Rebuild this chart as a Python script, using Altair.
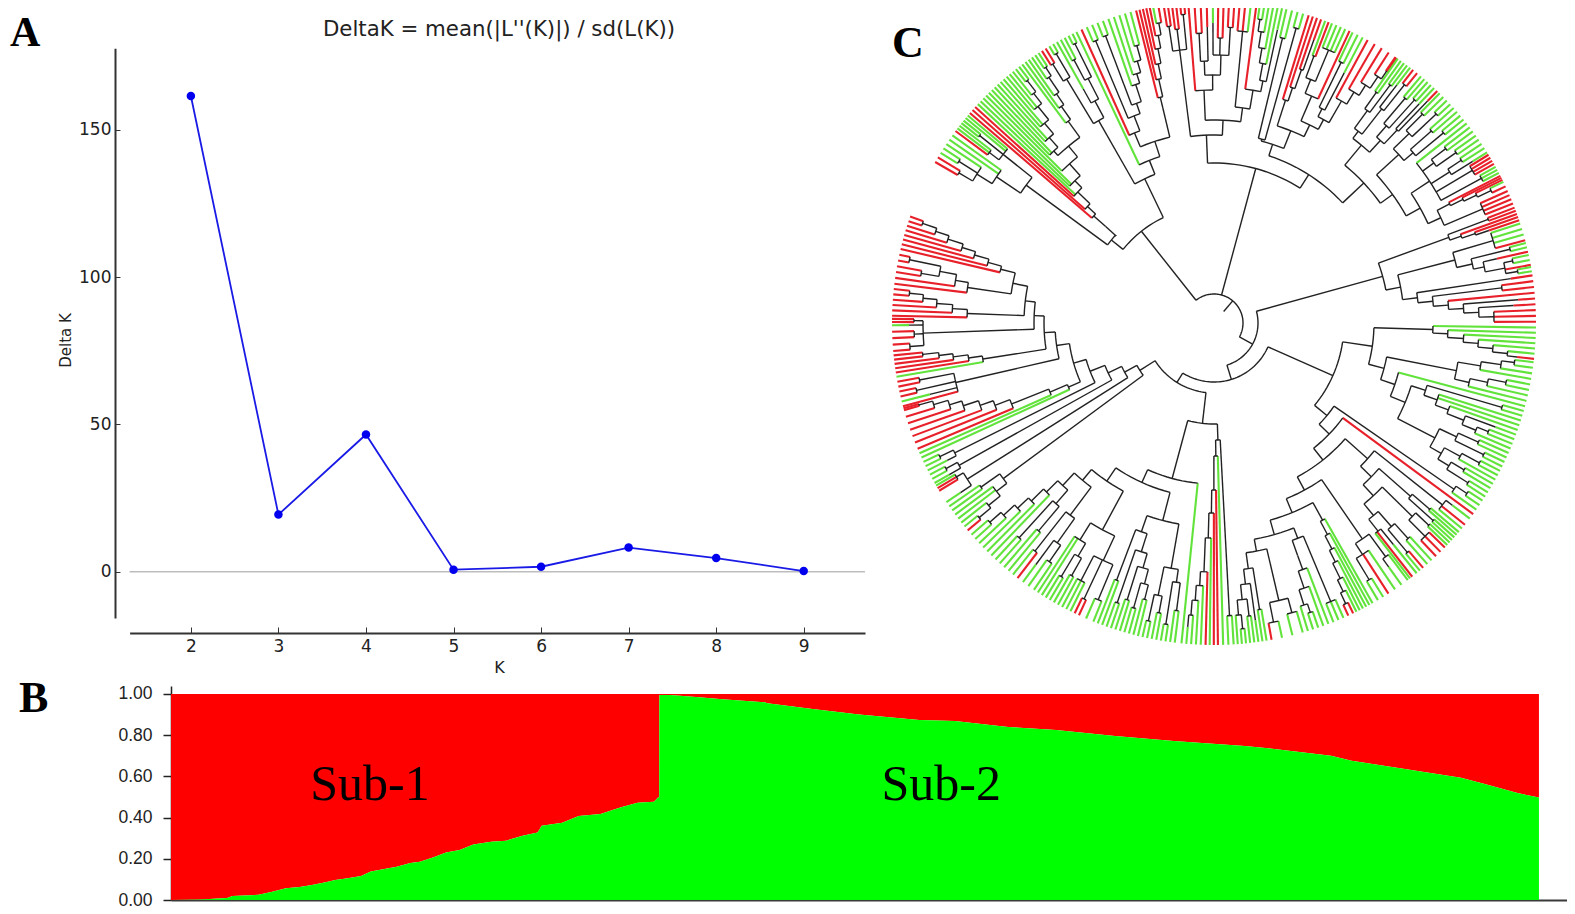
import re
import numpy as np
import pandas as pd
import altair as alt

alt.data_transformers.disable_max_rows()

W, H = 1559, 901

# ---------- panel A ----------
k_values = [2, 3, 4, 5, 6, 7, 8, 9]
delta_k = [161.5, 19.4, 46.6, 0.7, 1.7, 8.2, 4.65, 0.25]
a_x_dom = [1.30, 9.70]
a_y_dom = [-15.7, 177.7]
a_y_ticks = [0, 50, 100, 150]

# ---------- panel B ----------
sub1_rank = [0, 2.2, 4.1, 4.5, 6.4, 7.4, 8.4, 9.4, 10.3, 11.3, 12.0, 12.8, 13.9, 14.6, 15.6, 16.5, 17.5,
             18.2, 19.2, 20.1, 21.1, 22.1, 23.4, 24.5, 25.7, 26.8, 27.1, 28.6, 29.8, 31.4, 32.9, 34.1, 35.3, 35.6, 35.69]
sub1_green = [0, .003, .01, .02, .025, .04, .057, .063, .073, .086, .097, .104, .116, .138, .15, .162, .18,
              .186, .207, .23, .243, .27, .283, .288, .312, .328, .36, .375, .408, .417, .45, .472, .477, .498, .498]
sub2_rank = [35.7, 36.5, 38.6, 40.3, 43.4, 43.6, 46.9, 50.3, 54.7, 57.3, 61.2, 64.7, 69.0, 73.3, 78.5, 80.2,
             84.8, 86.3, 90.2, 94.3, 95.9, 98.5, 100]
sub2_green = [.995, .995, .984, .974, .96, .955, .927, .90, .874, .869, .84, .825, .796, .772, .748, .737,
              .70, .676, .636, .594, .566, .518, .498]
b_y_ticks = [0, .2, .4, .6, .8, 1]
b_labels = ["Sub-1", "Sub-2"]
b_label_x = [14.55, 56.3]
b_label_y = [.56, .56]

# ---------- panel C: the tree, clockwise. "(radius children...)", r/g = leaves, @deg = tip angle of next leaf ----------
c11 = "(233 (262 (280 (296 @150 r2) (302 g2) g) g2) (270 (282 @143.4 r g2) (300 g2) g2))"
c12 = "(131 (145 (161 @139.3 r (172 r (189 r g (199 g2 (215 g (229 (235 g2 (248 g2 (262 g2 (279 g2 (292 g (306 g2)))))) (249 g (265 g (278 g (296 g (306 g2)))))))))))))"
c21 = "(233 (285 (305 @122.3 r2) (312 g2)) (252 (268 g) (275 (298 g2) (312 g2))))"
c22 = "(175 @115.3 g (191 (206 @114.3 r (222 (306 g2) (233 (307 g2) (251 g (261 g (273 g (288 g2))))))) (221 (232 @104 r (250 r (265 r (280 r (293 r (305 @100.9 g r)))))))))"
T11 = "(275 (300 @99 r2) (296 r2) (310 r2))"
T12a = "(233 @94.6 r (248 (262 (290 r2) (296 r)) (268 (300 @90.2 g) (285 r2) (296 r2))))"
T13 = "(217 (293 @85.4 r2 g) (236 @82.4 r (247 (264 (279 (295 (307 @81.8 g2) g) g) g) (300 g))))"
V1 = "(190 (293 @77 g2) (306 g2))"
V21 = "(234 @72.9 r (248 r (268 r (300 r))))"
V22 = "(220 (247 (262 (285 @69.8 g r) (296 @68.5 g4)) @65.1 r) (231 (240 (290 @64.5 g2) (282 g)) (256 @61.5 r (270 r (282 r (296 r (305 @55.7 r2)))))))"
W1 = "(231 (240 (262 (282 @55.2 g2) (296 g2)) (272 (300 g) (305 @51.8 r2))) (247 (262 (295 @50 g2) (300 g2)) (266 (300 g) (308 @46.1 r))))"
W2a = "(250 (272 (295 @45.5 g2) (305 g2)) (262 (290 g2) (298 g2)))"
X = "(258 g (272 (290 g2) (296 g2)) (280 (296 g2) (305 @32 g)) (300 @31.5 r4) (304 @29 g3))"
Y = "(250 (264 @27.2 r (278 r (292 r (307 @26 g r)))) (292 @24.2 r3 r))"
R1 = "(250 (293 @21 r2) (262 r (276 r (290 @18.6 r))))"
R21 = "(249 (291 @18 g3 @14.9 r) (265 (305 @14.4 g2) (276 (290 @12.8 r) (296 (305 @12.2 g2) @10.4 r (308 @10 g2)))))"
R22 = "(205 (300 @8.5 r) (220 (290 r2) (235 r (250 (305 r) (265 (300 r) (280 r3))))))"
S11 = "(219 @-0.8 g (234 g (250 g (265 g (280 g (295 g (305 @-6.4 r)))))))"
S121 = "(247 (270 (290 (303 @-7 g2) g) g) (262 (280 (298 g2) g) g))"
S122 = "(191 @-15 g (207 (222 (300 g2) (236 g2 (250 g (268 (300 g) (283 (295 g2) g))))) (249 (268 (290 g2) (300 g2)) (262 (280 (300 g2) g) (275 (290 g2) (300 g2))))))"
S21 = "(292 (305 @-33.5 g2) g)"
S2a = "(292 (300 @-37.4 g) @-38.8 r g)"
S2b = "(220 (262 (285 @-40.5 g2) (295 g2)) (235 (277 (295 g2) (300 @-44.2 r3)) (250 (270 (290 @-47.5 g2) (300 @-49.5 r g)) (265 (285 @-51 g) @-52 r g))))"
S3a = "(262 (290 @-53 g (300 g)) (275 g @-57.2 r (300 g2)))"
S3b = "(225 @-60.5 g (240 g (255 g (268 g (285 g (298 g (310 @-64.4 r2)))))))"
S3c = "(231 (302 @-66.3 g3) (247 (262 g (280 g (296 (305 g2) g)))))"
B1 = "(285 (300 @-74 g2) (305 g @-79.7 r))"
B2 = "(248 (290 @-80.6 g2) (263 (300 g) (278 (295 g2) (293 (307 g2) g))))"
Z2 = "(117 (293 @-86.5 g2) (133 g (167 @-89.3 r (190 r (215 g (249 @-91.5 r (263 g (278 g (293 g (305 g))))))))))"
Zb1 = "(204 (249 (262 (290 @-97 g2) (305 g2)) (278 (295 g2) (305 g2))) (221 (240 (255 (270 (285 g2) (296 g2)) (290 g2)) (296 g2)) (275 g2)))"
Zb2 = "(191 (235 (262 (300 @-112 g2) (305 @-114.8 r2) (290 g3)) (255 (270 (290 g2) (296 g2)) g2)) (205 (240 (270 (290 @-124 g2) (300 g)) (290 @-127.6 r g)) (222 (240 (272 g2) (290 g2)) (238 g (255 g (270 g (285 g (300 g2))))))))"
Y1 = "(262 (275 (290 (305 @-139.9 r g) g) g2) (285 g2))"
Y2 = "(292 (305 @-146.2 g) (300 @-148.6 r2 g))"
Y3 = "(292 (305 @-150.2 g) (305 g2))"
Y4 = "(290 (300 g) (305 g2))"
Y5 = "(159 g (178 g (218 @-157 r (234 r (248 r (264 r (277 r (292 r (306 @-164.3 r2))))))))"
D3 = "(265 @-165 r (293 g) (305 r2) (300 r2))"
D2 = "(234 @-170.4 g (248 r (263 r (277 r (293 r2)))))"
D1 = "(291 (305 @-175 r2) (300 r2) (305 @-179.6 g) (300 r2))"
C1 = "(247 @-181.3 r (262 r (278 r (292 r (306 r2)))))"
C2 = "(249 @-187 r (262 r (279 (297 r2) (311 r2))))"
C3 = "(220 @-193.3 r (234 r (249 r (263 r (279 r (293 r (308 r @-199.3 r)))))))"

def fix(s):
    d = 0
    out = []
    for ch in s:
        if ch == "(":
            d += 1
        if ch == ")":
            if d == 0:
                continue
            d -= 1
        out.append(ch)
    return "".join(out) + ")" * d

clades = {k: fix(v) for k, v in list(globals().items())
          if isinstance(v, str) and v.startswith("(") and re.fullmatch(r"[A-Za-z0-9]+", k)}
TEMPLATE = """(15 (29
 (117 (132 c11 c12) (160 c21 c22))
 (160 (188 T11 (203 T12a T13))
      (176 (188 V1 (207 V21 V22))
           (205 W1 (220 W2a (236 X Y)))))
 (44 (175 R1 (190 R21 R22))
     (59 (130 (160 S11 (176 S121 S122))
              (146 S21 (160 @-36.4 r
                 (175 (205 S2a S2b)
                      (190 S3a (205 S3b (220 S3c (232 B1 B2))))))))
         (70 (101 Z2 (161 @-95.8 g (175 Zb1 Zb2)))
             (88 Y1 (102 Y2 (117 Y3 (133 Y4 (146 Y5 (159 D3 (170 D2 (180 D1 (190 C1 (205 C2 C3))))))))))))))))"""
tree_text = re.sub(r"[A-Za-z][A-Za-z0-9]+|[XYTSZ]\d*",
                   lambda m: clades.get(m.group(0), m.group(0)), TEMPLATE)

tokens = re.findall(r"\(|\)|@-?\d+\.?\d*|[rg]\d*|\d+\.?\d*", tree_text)
pos = 0
leaves = []
anchors = {}

def parse_node():
    global pos
    pos += 1  # (
    node = {"r": float(tokens[pos]), "c": []}
    pos += 1
    while pos < len(tokens) and tokens[pos] != ")":
        t = tokens[pos]
        if t == "(":
            node["c"].append(parse_node())
        elif t[0] == "@":
            anchors[len(leaves)] = float(t[1:])
            pos += 1
        else:
            for _ in range(int(t[1:] or 1)):
                leaf = {"k": t[0], "i": len(leaves)}
                leaves.append(leaf)
                node["c"].append(leaf)
            pos += 1
    pos += 1
    return node

root = parse_node()
idx = sorted(anchors)
leaf_phi = np.interp(np.arange(len(leaves)), idx, [anchors[i] for i in idx])
TIP_R = 322.0
rows = []
seg = 0

def add(points, kind):
    global seg
    seg += 1
    for j, (r, phi) in enumerate(points):
        a = np.radians(phi)
        rows.append((seg, j, r * np.cos(a), r * np.sin(a), kind))

def phi_of(n):
    if "k" in n:
        return leaf_phi[n["i"]]
    a, b = phi_of(n["c"][0]), phi_of(n["c"][-1])
    return (a + b) / 2

def walk(n, parent_r):
    phi = phi_of(n)
    if "k" in n:
        add([(parent_r, phi), (TIP_R, phi)], n["k"])
        return
    if parent_r is not None:
        add([(parent_r, phi), (n["r"], phi)], "k")
    a, b = phi_of(n["c"][0]), phi_of(n["c"][-1])
    if len(n["c"]) > 1:
        m = max(2, int(abs(a - b) / 2) + 2)
        add([(n["r"], p) for p in np.linspace(a, b, m)], "k")
    for c in n["c"]:
        walk(c, n["r"])

walk(root, None)
tree = pd.DataFrame(rows, columns=["seg", "i", "x", "y", "kind"])

# ---------- helpers ----------
def scale(dom, rng):
    return alt.Scale(domain=dom, range=rng, nice=False, zero=False)

ax_x_a = scale(a_x_dom, [121.6, 857])
ax_y_a = scale(a_y_dom, [610, 40.3])
ax_x_b = scale([0, 102.27], [163, 1562])
ax_y_b = scale([0, 1.0388], [892, 678])
ax_x_c = scale([-322, 322], [884, 1528])
ax_y_c = scale([-322, 322], [637, -7])

AXC = "#333333"
dfa = pd.DataFrame({"k": k_values, "d": delta_k})

# zero line, carrying the inward tick marks
zero = alt.Chart(pd.DataFrame({"x": [a_x_dom[0]], "x2": [a_x_dom[1]], "y": [0]})).mark_rule(
    color="#bdbdbd", strokeWidth=1.5
).encode(
    x=alt.X("x:Q", scale=ax_x_a, axis=alt.Axis(orient="top", offset=-625, labels=False, domain=False, grid=False,
                                               values=k_values, tickSize=6, tickColor=AXC, title=None)),
    x2="x2:Q",
    y=alt.Y("y:Q", scale=ax_y_a, axis=alt.Axis(orient="right", offset=-(W - 107), labels=False, domain=False, grid=False,
                                               values=a_y_ticks, tickSize=5, tickColor=AXC, title=None)),
)
line_a = alt.Chart(dfa).mark_line(color="#1a1ae6", strokeWidth=1.8).encode(
    x=alt.X("k:Q", scale=ax_x_a, axis=alt.Axis(
        orient="bottom", offset=-(H - 625), values=k_values, format="d", grid=False, ticks=False,
        domainColor=AXC, domainWidth=2, labelFont="DejaVu Sans", labelFontSize=17, labelColor="#222222",
        labelPadding=5, title="K", titleFont="DejaVu Sans", titleFontSize=16, titleFontWeight="normal",
        titleColor="#222222", titleX=491, titleY=34, titleBaseline="middle")),
    y=alt.Y("d:Q", scale=ax_y_a, axis=alt.Axis(
        orient="left", offset=-107, values=a_y_ticks, format="d", grid=False, ticks=False,
        domainColor=AXC, domainWidth=2, labelFont="DejaVu Sans", labelFontSize=17, labelColor="#222222",
        labelPadding=4, title="Delta K", titleFont="DejaVu Sans", titleFontSize=15, titleFontWeight="normal",
        titleColor="#222222", titleX=-49.6, titleY=332, titleBaseline="middle")),
)
pts_a = alt.Chart(dfa).mark_circle(color="#0000ee", opacity=1, size=72).encode(
    x=alt.X("k:Q", scale=ax_x_a, axis=None),
    y=alt.Y("d:Q", scale=ax_y_a, axis=None),
)

def text_layer(txt, x, y, font, size, weight="normal", align="left", baseline="alphabetic", color="#000000"):
    return alt.Chart(pd.DataFrame({"t": [txt]})).mark_text(
        font=font, fontSize=size, fontWeight=weight, align=align, baseline=baseline, color=color
    ).encode(x=alt.value(x), y=alt.value(y), text="t:N")

title_a = text_layer("DeltaK = mean(|L''(K)|) / sd(L(K))", 491, 21.5, "DejaVu Sans", 21.3,
                     align="center", baseline="middle", color="#222222")
letter_a = text_layer("A", 2, 38, "Liberation Serif", 42, "bold")
letter_b = text_layer("B", 11, 704, "Liberation Serif", 44, "bold")
letter_c = text_layer("C", 884, 49, "Liberation Serif", 44, "bold")

dfb = pd.DataFrame({"rank": sub1_rank + sub2_rank, "v": sub1_green + sub2_green})
dfb["one"] = 1.0
dfb["zero"] = 0.0
red_area = alt.Chart(dfb).mark_area(color="#ff0000", interpolate="linear").encode(
    x=alt.X("rank:Q", scale=ax_x_b, axis=alt.Axis(
        orient="bottom", offset=-(H - 892), labels=False, ticks=False, grid=False,
        domainColor="#3a3a3a", domainWidth=2, title=None)),
    y=alt.Y("v:Q", scale=ax_y_b, axis=alt.Axis(
        orient="left", offset=-163, values=b_y_ticks, format=".2f", grid=False, tickSize=8, tickColor="#222222",
        tickWidth=1.5, domainColor="#222222", domainWidth=1.5, labelFont="Liberation Sans", labelFontSize=17.5,
        labelColor="#222222", labelPadding=11, title=None)),
    y2="one:Q",
)
green_area = alt.Chart(dfb).mark_area(color="#00ff00", interpolate="linear").encode(
    x=alt.X("rank:Q", scale=ax_x_b, axis=None),
    y=alt.Y("v:Q", scale=ax_y_b, axis=None),
    y2="zero:Q",
)
sub_text = alt.Chart(pd.DataFrame({"t": b_labels, "x": b_label_x, "y": b_label_y})).mark_text(
    font="Liberation Serif", fontSize=50, color="#000000", align="center", baseline="middle"
).encode(
    x=alt.X("x:Q", scale=ax_x_b, axis=None),
    y=alt.Y("y:Q", scale=ax_y_b, axis=None),
    text="t:N",
)

tree_black = alt.Chart(tree[tree.kind == "k"]).mark_line(color="#222222", strokeWidth=1.4).encode(
    x=alt.X("x:Q", scale=ax_x_c, axis=None),
    y=alt.Y("y:Q", scale=ax_y_c, axis=None),
    detail="seg:N",
    order=alt.Order("i:Q"),
)
tree_leaf = alt.Chart(tree[tree.kind != "k"]).mark_line(strokeWidth=2.1).encode(
    x=alt.X("x:Q", scale=ax_x_c, axis=None),
    y=alt.Y("y:Q", scale=ax_y_c, axis=None),
    color=alt.Color("kind:N", scale=alt.Scale(domain=["r", "g"], range=["#e8202a", "#62e33c"]), legend=None),
    detail="seg:N",
    order=alt.Order("i:Q"),
)

chart = alt.layer(
    zero, line_a, pts_a, title_a, letter_a, letter_b, letter_c,
    red_area, green_area, sub_text, tree_leaf, tree_black,
).resolve_scale(x="independent", y="independent", color="independent").resolve_axis(
    x="independent", y="independent"
).properties(width=W, height=H, padding=0, autosize=alt.AutoSizeParams(type="none")).configure_view(stroke=None)

chart.save("out.html", embed_options={"renderer": "svg", "actions": False})
